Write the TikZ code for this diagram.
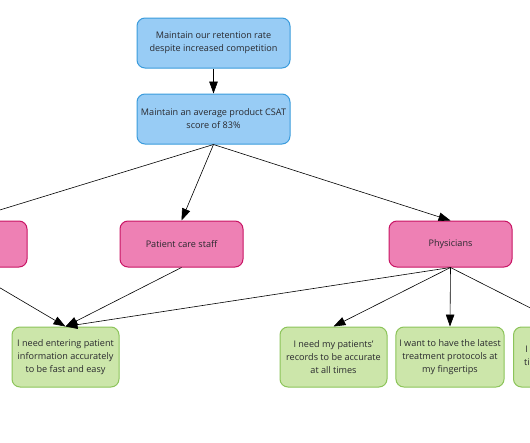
\documentclass[tikz,border=0pt]{standalone}
\usepackage{fontspec}
\setmainfont{Open Sans}
\usetikzlibrary{arrows.meta,positioning}
\definecolor{sky}{RGB}{152,204,245}
\definecolor{skyline}{RGB}{58,155,220}
\definecolor{rose}{RGB}{238,128,180}
\definecolor{roseline}{RGB}{200,20,100}
\definecolor{sprout}{RGB}{204,230,170}
\definecolor{sproutline}{RGB}{140,196,90}
\definecolor{ink}{RGB}{40,40,45}
\tikzset{
  >={Triangle[length=4.2mm,width=3mm]},
  goal/.style={draw=skyline,fill=sky,line width=1pt,rounded corners=8pt,
    minimum width=153pt,minimum height=50pt,align=center,text=ink,
    font=\fontsize{9.1}{13}\selectfont},
  persona/.style={draw=roseline,fill=rose,line width=1pt,rounded corners=8pt,
    minimum width=123pt,minimum height=46pt,align=center,text=ink,
    font=\fontsize{9.1}{13}\selectfont},
  need/.style={draw=sproutline,fill=sprout,line width=1pt,rounded corners=8pt,
    minimum width=107pt,minimum height=60pt,align=center,text=ink,
    font=\fontsize{9.1}{12.7}\selectfont},
  link/.style={->,draw=black,line width=0.6pt},
}

\begin{document}
\begin{tikzpicture}[x=1pt,y=-1pt]
  \useasboundingbox (0,0) rectangle (530,442);
  \clip (0,0) rectangle (530,442);
  % goals
  \node[goal] (ret) at (213.5,43) {Maintain our retention rate\\despite increased competition};
  \node[goal] (csat) at (213.5,119) {Maintain an average product CSAT\\score of 83\%};
  % personas
  \node[persona] (admin) at (-34.5,244) {};
  \node[persona] (staff) at (181.5,244) {Patient care staff};
  \node[persona] (phys) at (450.5,244) {Physicians};
  % needs
  \node[need] (entry) at (65.5,357) {I need entering patient\\information accurately\\to be fast and easy};
  \node[need] (records) at (333.5,357) {I need my patients'\\records to be accurate\\at all times};
  \node[need] (latest) at (450,357) {I want to have the latest\\treatment protocols at\\my fingertips};
  \node[need] (more) at (567,357) {I want to save more\\time for my patients};

  \draw[link] (ret) -- (csat);
  \foreach \p in {admin,staff,phys}
    \draw[link] (csat.south) -- (\p.north);
  \foreach \p in {admin,staff,phys}
    \draw[link] (\p.south) -- (entry.north);
  \foreach \n in {records,latest,more}
    \draw[link] (phys.south) -- (\n.north);
\end{tikzpicture}
\end{document}
